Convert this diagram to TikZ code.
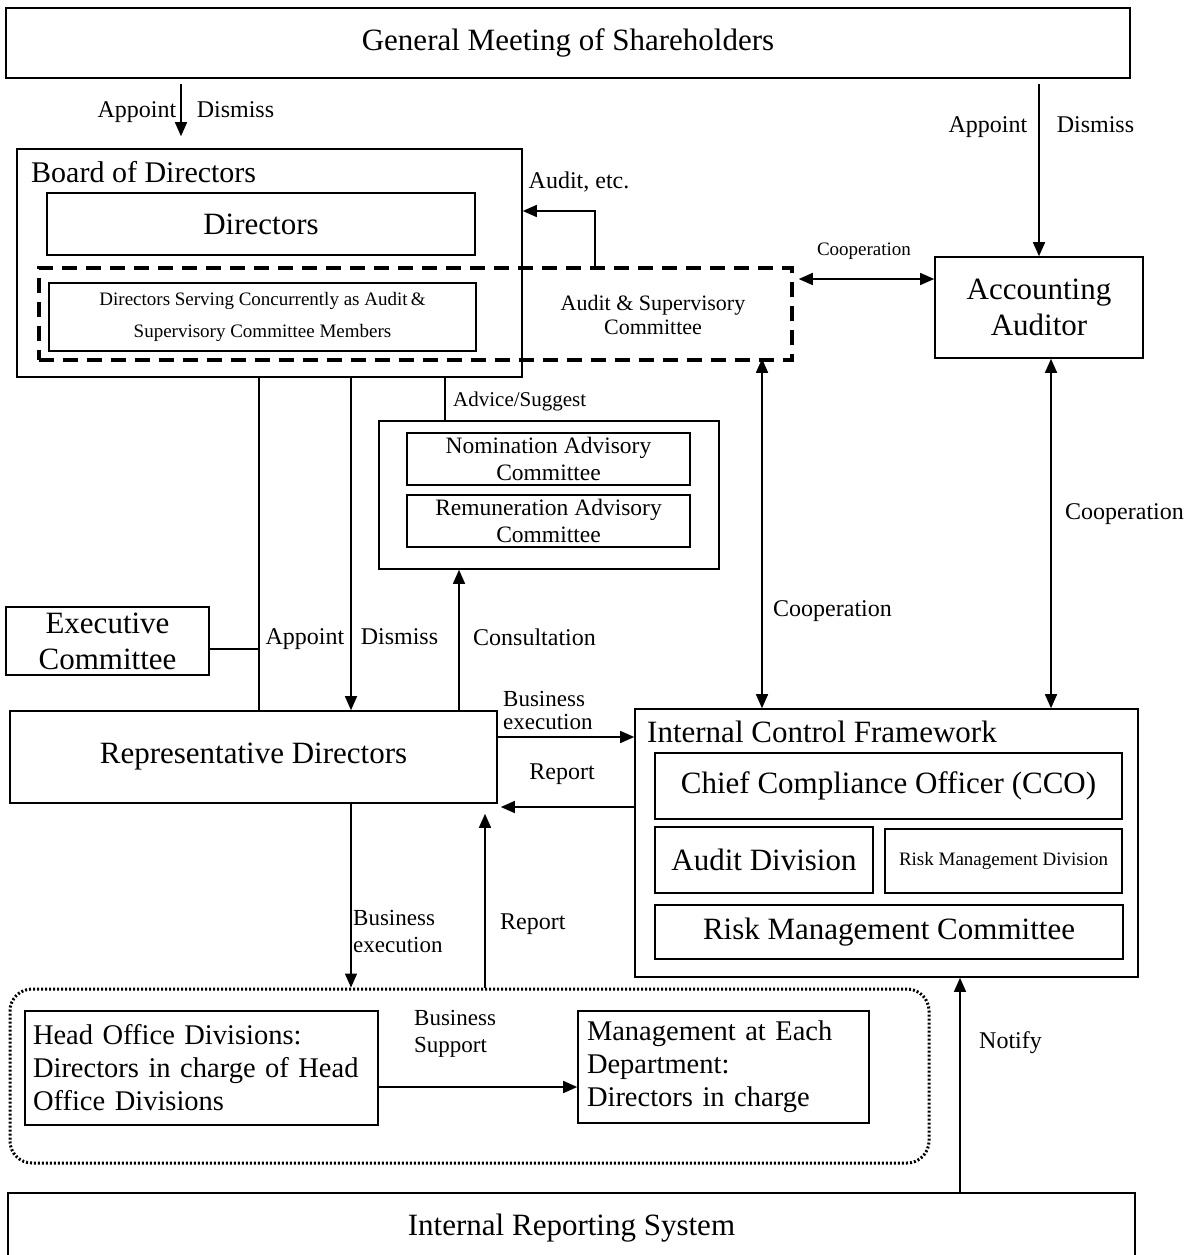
\documentclass[tikz,border=0pt]{standalone}
\usepackage{fontspec}
\setmainfont{Liberation Serif}
\usetikzlibrary{arrows.meta}
\newcommand\BigT{\fontsize{31}{36}\selectfont}
\newcommand\HeadT{\fontsize{28.5}{33}\selectfont}
\newcommand\MidT{\fontsize{24}{26}\selectfont}
\newcommand\SmallT{\fontsize{19}{21}\selectfont}

\begin{document}
\begin{tikzpicture}[x=1pt, y=-1pt,
  box/.style={draw, line width=1.6pt, inner sep=0pt, align=center},
  lbl/.style={inner sep=0pt, align=center, font=\MidT},
  ad/.style={lbl, text height=0.72em, text depth=0.22em, yshift=-5pt},
  link/.style={line width=1.5pt},
  arr/.style={link, -{Triangle[length=14pt,width=12pt]}},
  darr/.style={link, {Triangle[length=14pt,width=12pt]}-{Triangle[length=14pt,width=12pt]}}]

  \useasboundingbox (0,0) rectangle (1192,1255);

  % top and bottom bars
  \node[box, font=\BigT, minimum width=1124pt, minimum height=70pt] (gm) at (568,43) {General Meeting of Shareholders};
  \node[box, font=\BigT, minimum width=1127pt, minimum height=70pt] (irs) at (571.5,1228) {Internal Reporting System};

  % board of directors
  \node[box, minimum width=505pt, minimum height=228pt] (board) at (269.5,263) {};
  \node[lbl, font=\fontsize{30}{36}\selectfont, anchor=west] (boardtitle) at (31,172) {Board of Directors};
  \node[box, font=\BigT, minimum width=428pt, minimum height=62pt] (directors) at (261,224) {Directors};
  \node[box, font=\fontsize{19}{32}\selectfont, minimum width=427pt, minimum height=68pt] (concurrent) at (262.5,317)
    {Directors Serving Concurrently as Audit\,\&\\Supervisory Committee Members};
  \node[draw, line width=3.5pt, dash pattern=on 15pt off 9pt, minimum width=753pt, minimum height=92pt] (asc) at (415.5,314) {};
  \node[lbl, font=\fontsize{22}{24}\selectfont] (ascname) at (653,315) {Audit \& Supervisory\\Committee};

  \node[box, font=\BigT, minimum width=208pt, minimum height=101pt] (acc) at (1039,307.5) {Accounting\\Auditor};

  % advisory committees
  \node[box, minimum width=340pt, minimum height=148pt] (adv) at (549,495) {};
  \node[box, font=\fontsize{23.5}{27}\selectfont, minimum width=283pt, minimum height=52pt] (nom) at (548.5,459) {Nomination Advisory\\Committee};
  \node[box, font=\fontsize{23.5}{27}\selectfont, minimum width=283pt, minimum height=52pt] (rem) at (548.5,521) {Remuneration Advisory\\Committee};

  \node[box, font=\BigT, minimum width=203pt, minimum height=68pt] (exec) at (107.5,641) {Executive\\Committee};
  \node[box, font=\BigT, minimum width=487pt, minimum height=92pt] (rep) at (253.5,757) {Representative Directors};

  % internal control framework
  \node[box, minimum width=503pt, minimum height=268pt] (icf) at (886.5,843) {};
  \node[lbl, font=\BigT, anchor=west] (icftitle) at (647,732) {Internal Control Framework};
  \node[box, font=\BigT, minimum width=467pt, minimum height=66pt] (cco) at (888.5,786) {Chief Compliance Officer (CCO)};
  \node[box, font=\BigT, minimum width=218pt, minimum height=66pt] (auddiv) at (764,860) {Audit Division};
  \node[box, font=\SmallT, minimum width=237pt, minimum height=64pt] (rmd) at (1003.5,861) {Risk Management Division};
  \node[box, font=\BigT, minimum width=468pt, minimum height=54pt] (rmc) at (889,932) {Risk Management Committee};

  % divisions
  \node[draw, line width=3pt, dash pattern=on 2pt off 2pt, rounded corners=22pt, minimum width=919pt, minimum height=174pt] (group) at (469.5,1076) {};
  \node[box, font=\HeadT, align=left, inner xsep=8pt, text width=337pt, minimum height=114pt] (head) at (201.5,1068)
    {Head Office Divisions:\\Directors in charge of Head\\Office Divisions};
  \node[box, font=\HeadT, align=left, inner xsep=9pt, text width=273pt, minimum height=112pt] (mgmt) at (723.5,1067)
    {Management at Each\\Department:\\Directors in charge};

  % helper points
  \coordinate (c1) at (181,110);
  \coordinate (c2) at (595,211);
  \coordinate (c3) at (864,279);
  \coordinate (c4) at (259,649);
  \coordinate (c5) at (351,637);
  \coordinate (c6) at (445,401);
  \coordinate (c7) at (459,637);
  \coordinate (c8) at (762,611);
  \coordinate (c9) at (1051,514);
  \coordinate (c10) at (547,737);
  \coordinate (c11) at (562,807);
  \coordinate (c12) at (485,924);
  \coordinate (c13) at (456,1087);
  \coordinate (c14) at (960,1043);

  % connectors
  \draw[arr] ([yshift=-5pt]gm.south -| c1) -- node[ad, left=4pt]{Appoint} node[ad, right=15pt]{Dismiss} ([yshift=12pt]board.north -| c1);
  \draw[arr] ([yshift=-5pt]gm.south -| acc.north) -- node[ad, pos=0.24, left=11pt]{Appoint} node[ad, pos=0.24, right=17pt]{Dismiss} (acc.north);

  \draw[arr] (asc.north -| c2) -- (c2) -- (board.east |- c2);
  \node[lbl] (lblaudit) at (579,182) {Audit, etc.};

  \draw[darr] ([xshift=5pt]asc.east |- c3) -- (acc.west |- c3);
  \node[lbl, font=\SmallT] (lblcoop1) at (864,251) {Cooperation};

  \draw[link] (board.south -| c4) -- (rep.north -| c4);
  \draw[link] (exec.east |- c4) -- (c4);

  \draw[arr] (board.south -| c5) -- node[ad, pos=0.78, left=6pt]{Appoint} node[ad, pos=0.78, right=9pt]{Dismiss} (rep.north -| c5);

  \draw[link] (board.south -| c6) -- (adv.north -| c6);
  \node[lbl, anchor=west, font=\fontsize{21}{24}\selectfont] (lbladvice) at (453,401) {Advice/Suggest};

  \draw[arr] (rep.north -| c7) -- (adv.south -| c7);
  \node[lbl, anchor=west] (lblconsult) at (473,637) {Consultation};

  \draw[darr] ([yshift=3pt]asc.south -| c8) -- (icf.north -| c8);
  \node[lbl, anchor=west] (lblcoop2) at (773,611) {Cooperation};

  \draw[darr] (acc.south -| c9) -- (icf.north -| c9);
  \node[lbl, anchor=west] (lblcoop3) at (1065,514) {Cooperation};

  \draw[arr] (rep.east |- c10) -- (icf.west |- c10);
  \node[lbl, anchor=west, align=left, font=\fontsize{23}{23}\selectfont] (lblexec1) at (503,710) {Business\\execution};

  \draw[arr] (icf.west |- c11) -- ([xshift=3pt]rep.east |- c11);
  \node[lbl] (lblreport1) at (562,774) {Report};

  \draw[arr] (rep.south -| c5) -- (group.north -| c5);
  \node[lbl, anchor=west, align=left, font=\fontsize{23}{27}\selectfont] (lblexec2) at (353,931) {Business\\execution};

  \draw[arr] (group.north -| c12) -- ([yshift=-10pt]rep.south -| c12);
  \node[lbl, anchor=west] (lblreport2) at (500,924) {Report};

  \draw[arr] (head.east |- c13) -- (mgmt.west |- c13);
  \node[lbl, anchor=west, align=left, font=\fontsize{23}{27}\selectfont] (lblsupport) at (414,1034) {Business\\Support};

  \draw[arr] (irs.north -| c14) -- (icf.south -| c14);
  \node[lbl, anchor=west] (lblnotify) at (979,1043) {Notify};
\end{tikzpicture}
\end{document}
